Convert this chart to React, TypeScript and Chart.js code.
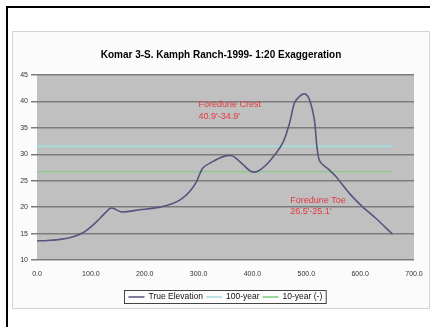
import React, { useEffect, useRef } from "react";
import { Chart, registerables } from "chart.js";

Chart.register(...registerables);

const TITLE = "Komar 3-S. Kamph Ranch-1999- 1:20 Exaggeration";

const distance = [0, 20, 43, 67, 86, 104, 117, 135, 141, 157, 191, 228, 252, 268, 283, 296, 308, 326, 339, 350, 363, 380, 397, 410, 431, 456, 469, 478, 488, 498, 506, 515, 524, 543, 555, 580, 604, 629, 660];
const elevation = [13.6, 13.7, 13.9, 14.4, 15.2, 16.6, 17.9, 19.7, 19.8, 19.1, 19.5, 20.0, 20.7, 21.5, 22.9, 24.8, 27.4, 28.6, 29.3, 29.7, 29.7, 28.3, 26.8, 26.8, 28.6, 32.1, 35.9, 39.7, 41.0, 41.4, 40.3, 36.5, 28.9, 27.0, 25.8, 22.6, 20.1, 17.9, 14.9];

const refRange = [0, 660];
const hundredYear = 31.5;
const tenYear = 26.7;

const seriesLabels = ["True Elevation", "100-year", "10-year (-)"];
const seriesColors = ["#55557f", "#a6dcdc", "#7ccc7c"];

const xMin = 0;
const xMax = 700;
const xStep = 100;
const yMin = 10;
const yMax = 45;
const yStep = 5;

const noteX = [300, 300, 470, 470];
const noteY = [39.4, 37.1, 21.2, 19.1];
const noteText = ["Foredune Crest", "40.9'-34.9'", "Foredune Toe", "26.5'-25.1'"];

const FONT = "'Liberation Sans', Arial, sans-serif";

export default function App() {
  const ref = useRef<HTMLCanvasElement | null>(null);

  useEffect(() => {
    if (!ref.current) return;
    const extras = {
      id: "extras",
      beforeDraw(chart: any) {
        const { ctx, chartArea } = chart;
        ctx.save();
        ctx.fillStyle = "#c0c0c0";
        ctx.fillRect(chartArea.left, chartArea.top, chartArea.right - chartArea.left, chartArea.bottom - chartArea.top);
        ctx.restore();
      },
      afterDraw(chart: any) {
        const { ctx } = chart;
        const xs = chart.scales.x;
        const ys = chart.scales.y;
        ctx.save();
        ctx.fillStyle = "#000";
        ctx.font = `bold 10px ${FONT}`;
        ctx.textAlign = "center";
        ctx.textBaseline = "middle";
        ctx.fillText(TITLE, 209, 24);
        ctx.fillStyle = "#e23a3e";
        ctx.font = `9px ${FONT}`;
        ctx.textAlign = "left";
        for (let i = 0; i < noteText.length; i++) {
          ctx.fillText(noteText[i], xs.getPixelForValue(noteX[i]), ys.getPixelForValue(noteY[i]));
        }
        ctx.font = `8.5px ${FONT}`;
        const sample = 16;
        const gap = 4;
        const itemGap = 3;
        const widths = seriesLabels.map((l) => ctx.measureText(l).width);
        const total = widths.reduce((a, w) => a + sample + gap + w, 0) + itemGap * (seriesLabels.length - 1) + 8;
        const cx = 212.5;
        const top = 259;
        const h = 13;
        const left = Math.round(cx - total / 2) + 0.5;
        ctx.strokeStyle = "#444";
        ctx.lineWidth = 1;
        ctx.fillStyle = "#fcfcfc";
        ctx.fillRect(left, top + 0.5, total, h);
        ctx.strokeRect(left, top + 0.5, total, h);
        let x = left + 4;
        const my = top + 0.5 + h / 2;
        for (let i = 0; i < seriesLabels.length; i++) {
          ctx.strokeStyle = seriesColors[i];
          ctx.lineWidth = 1.5;
          ctx.beginPath();
          ctx.moveTo(x, my);
          ctx.lineTo(x + sample, my);
          ctx.stroke();
          x += sample + gap;
          ctx.fillStyle = "#111";
          ctx.textAlign = "left";
          ctx.fillText(seriesLabels[i], x, my);
          x += widths[i] + itemGap;
        }
        ctx.restore();
      },
    };

    const chart = new Chart(ref.current, {
      type: "line",
      data: {
        datasets: [
          {
            label: seriesLabels[0],
            data: distance.map((d, i) => ({ x: d, y: elevation[i] })),
            borderColor: seriesColors[0],
            borderWidth: 1.6,
            pointRadius: 0,
            tension: 0.3,
            order: 0,
          },
          {
            label: seriesLabels[1],
            data: refRange.map((d) => ({ x: d, y: hundredYear })),
            borderColor: seriesColors[1],
            borderWidth: 2,
            pointRadius: 0,
            order: 1,
          },
          {
            label: seriesLabels[2],
            data: refRange.map((d) => ({ x: d, y: tenYear })),
            borderColor: seriesColors[2],
            borderWidth: 1.2,
            pointRadius: 0,
            order: 2,
          },
        ],
      },
      options: {
        animation: false,
        responsive: false,
        maintainAspectRatio: false,
        devicePixelRatio: 1,
        layout: { padding: { left: 0, right: 16, top: 44, bottom: 29 } },
        plugins: { legend: { display: false }, title: { display: false }, tooltip: { enabled: false } },
        scales: {
          x: {
            type: "linear",
            min: xMin,
            max: xMax,
            afterFit: (s: any) => { s.height = 20; s.paddingLeft = 0; s.paddingRight = 0; },
            ticks: {
              stepSize: xStep,
              padding: 10,
              color: "#333",
              font: { family: FONT, size: 7 },
              callback: (v: any) => Number(v).toFixed(1),
              maxRotation: 0,
              autoSkip: false,
            },
            grid: { display: false, drawTicks: false },
            border: { display: false },
          },
          y: {
            min: yMin,
            max: yMax,
            afterFit: (s: any) => { s.width = 25; s.paddingTop = 0; s.paddingBottom = 0; },
            ticks: {
              stepSize: yStep,
              padding: 3,
              color: "#333",
              font: { family: FONT, size: 7 },
            },
            grid: { color: "#7c7c7c", lineWidth: 1.5, tickLength: 6, drawTicks: true },
            border: { display: false },
          },
        },
      },
      plugins: [extras],
    } as any);
    return () => chart.destroy();
  }, []);

  return (
    <div style={{ position: "fixed", left: 0, top: 0, width: 430, height: 327, background: "#fff", overflow: "hidden" }}>
      <div style={{ position: "absolute", left: 6, top: 6, width: 430, height: 330, borderLeft: "2px solid #000", borderTop: "2px solid #000" }} />
      <div style={{ position: "absolute", left: 12, top: 31, width: 416, height: 276, border: "1px solid #d4d4d4", background: "#fbfbfb" }} />
      <canvas ref={ref} width={418} height={278} style={{ position: "absolute", left: 12, top: 31, width: 418, height: 278 }} />
    </div>
  );
}
